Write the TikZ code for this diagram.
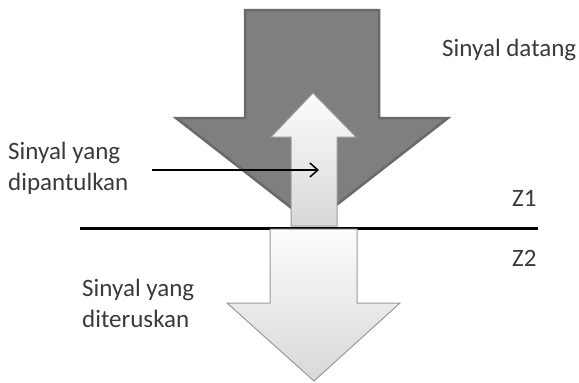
\documentclass[tikz,border=0pt]{standalone}
\usepackage{fontspec}
\setmainfont{Carlito}
\usepackage{tikz}
\usetikzlibrary{arrows.meta}

\definecolor{darkarrow}{HTML}{7F7F7F}
\definecolor{darkedge}{HTML}{6A6A6A}
\definecolor{lightarrow}{HTML}{E2E2E2}
\definecolor{lightedge}{HTML}{9A9A9A}
\definecolor{labeltext}{HTML}{3A3A3A}

\tikzset{
  label text/.style={text=labeltext, font=\fontsize{25}{31}\selectfont, inner sep=0pt, align=left},
  dark arrow/.style={fill=darkarrow, draw=darkedge, line width=2.5pt, line join=miter},
  light arrow/.style={top color=white!90!lightarrow, bottom color=lightarrow!90!gray, draw=lightedge, line width=1pt},
}

\begin{document}
\begin{tikzpicture}[x=1pt,y=-1pt]
  \useasboundingbox (0,0) rectangle (579,383);

  % incoming signal
  \draw[dark arrow] (245,10) -- (379,10) -- (379,118) -- (448,118)
    -- (312,224) -- (176,118) -- (245,118) -- cycle;

  % boundary between Z1 and Z2
  \draw[line width=3pt] (80,228) -- (538,228);

  % reflected signal
  \draw[light arrow] (291,226) -- (291,137) -- (271,137) -- (313,93)
    -- (356,137) -- (337,137) -- (337,226) -- cycle;

  % transmitted signal
  \draw[light arrow] (270,229) -- (357,229) -- (357,303) -- (400,303)
    -- (314,381) -- (227,303) -- (270,303) -- cycle;


  \node[label text, anchor=west] (datang) at (442,50) {Sinyal datang};
  \node[label text, anchor=west] (zone1) at (512,198) {Z1};
  \node[label text, anchor=west] (zone2) at (512,258) {Z2};

  \node[label text, anchor=west] (pantul) at (8,168) {Sinyal yang\\dipantulkan};
  \node[label text, anchor=west] (terus) at (82,303) {Sinyal yang\\diteruskan};

  \coordinate (pantulstart) at (152,170);
  \coordinate (pantulend) at (319,170);
  \draw[-{Straight Barb[length=8pt,width=14pt,line width=1.5pt]}, line width=1.3pt] (pantulstart) -- (pantulend);

\end{tikzpicture}
\end{document}
